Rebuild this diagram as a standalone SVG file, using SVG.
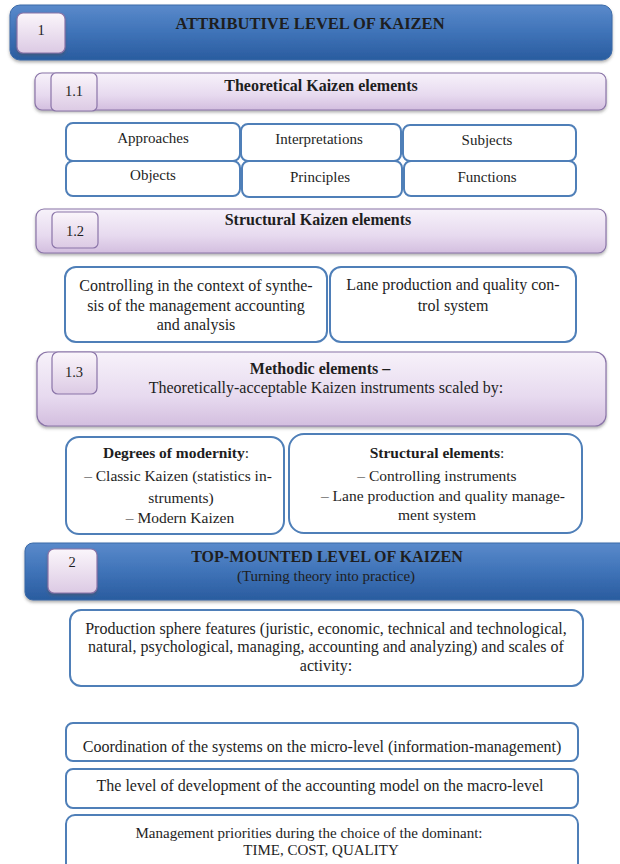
<svg xmlns="http://www.w3.org/2000/svg" width="620" height="864" viewBox="0 0 620 864">
  <defs>
    <linearGradient id="blueBar" x1="0" y1="0" x2="0" y2="1">
      <stop offset="0" stop-color="#5a8acb"/>
      <stop offset="0.5" stop-color="#3f73b8"/>
      <stop offset="1" stop-color="#2a5c9f"/>
    </linearGradient>
    <linearGradient id="lilacBar" x1="0" y1="0" x2="0" y2="1">
      <stop offset="0" stop-color="#f7f2fa"/>
      <stop offset="0.6" stop-color="#e7daef"/>
      <stop offset="1" stop-color="#d3bedf"/>
    </linearGradient>
    <linearGradient id="tag" x1="0" y1="0" x2="0" y2="1">
      <stop offset="0" stop-color="#fbf6fb"/>
      <stop offset="1" stop-color="#dccae4"/>
    </linearGradient>
    <filter id="shadow" x="-5%" y="-20%" width="110%" height="150%">
      <feDropShadow dx="0" dy="2" stdDeviation="1.5" flood-color="#555" flood-opacity="0.45"/>
    </filter>
  </defs>
  <style>
    text { font-family: "Liberation Serif", "Times New Roman", serif; fill: #1e1e1e; text-anchor: middle; }
    .c { font-size: 15px; }
    .m { font-size: 15.5px; }
    .t { font-size: 16px; }
    .s { font-size: 15px; }
    .b { font-size: 16px; font-weight: bold; }
    .h { font-size: 16.5px; font-weight: bold; }
    .lab { font-size: 14.5px; }
    .blue { fill: url(#blueBar); stroke: #3a6aa8; stroke-width: 1; }
    .lilac { fill: url(#lilacBar); stroke: #8a74a8; stroke-width: 1.2; }
    .tag { fill: url(#tag); stroke: #8a74a8; stroke-width: 1.2; }
    .cell { fill: #ffffff; stroke: #4f7fb8; stroke-width: 2; }
  </style>

  <!-- Level 1 header -->
  <g id="level1">
    <rect class="blue" x="10" y="5" width="602" height="55" rx="10" filter="url(#shadow)"/>
    <rect class="tag" x="17" y="13" width="48" height="40" rx="6" filter="url(#shadow)"/>
    <text class="lab" x="41" y="35">1</text>
    <text class="h" x="310" y="29">ATTRIBUTIVE LEVEL OF KAIZEN</text>
  </g>

  <!-- 1.1 Theoretical elements -->
  <g id="sec11">
    <rect class="lilac" x="35" y="73" width="571" height="37" rx="7" filter="url(#shadow)"/>
    <rect class="tag" x="51" y="73" width="46" height="38" rx="5"/>
    <text class="lab" x="74" y="96">1.1</text>
    <text class="b" x="321" y="91">Theoretical Kaizen elements</text>
  </g>

  <g id="approaches"><rect class="cell" x="66" y="123" width="174" height="38" rx="7"/><text class="c" x="153" y="143">Approaches</text></g>
  <g id="interpretations"><rect class="cell" x="241" y="124" width="160" height="37" rx="7"/><text class="c" x="319" y="144">Interpretations</text></g>
  <g id="subjects"><rect class="cell" x="403" y="125" width="173" height="36" rx="7"/><text class="c" x="487" y="145">Subjects</text></g>
  <g id="objects"><rect class="cell" x="66" y="161" width="174" height="35" rx="7"/><text class="c" x="153" y="180">Objects</text></g>
  <g id="principles"><rect class="cell" x="242" y="161" width="160" height="36" rx="7"/><text class="c" x="320" y="182">Principles</text></g>
  <g id="functions"><rect class="cell" x="404" y="161" width="172" height="35" rx="7"/><text class="c" x="487" y="182">Functions</text></g>

  <!-- 1.2 Structural elements -->
  <g id="sec12">
    <rect class="lilac" x="36" y="209" width="570" height="44" rx="8" filter="url(#shadow)"/>
    <rect class="tag" x="52" y="212" width="46" height="36" rx="5"/>
    <text class="lab" x="75" y="236">1.2</text>
    <text class="b" x="318" y="225">Structural Kaizen elements</text>
  </g>

  <g id="controlling">
    <rect class="cell" x="65" y="267" width="262" height="75" rx="11"/>
    <text class="t" x="196" y="291">Controlling in the context of synthe-</text>
    <text class="t" x="196" y="311">sis of the management accounting</text>
    <text class="t" x="196" y="330">and analysis</text>
  </g>
  <g id="lane">
    <rect class="cell" x="330" y="267" width="246" height="75" rx="11"/>
    <text class="t" x="453" y="290">Lane production and quality con-</text>
    <text class="t" x="453" y="311">trol system</text>
  </g>

  <!-- 1.3 Methodic elements -->
  <g id="sec13">
    <rect class="lilac" x="37" y="352" width="569" height="74" rx="11" filter="url(#shadow)"/>
    <rect class="tag" x="52" y="352" width="45" height="42" rx="6"/>
    <text class="lab" x="74" y="377">1.3</text>
    <text class="b" x="320" y="374">Methodic elements –</text>
    <text class="t" x="326" y="393">Theoretically-acceptable Kaizen instruments scaled by:</text>
  </g>

  <g id="modernity">
    <rect class="cell" x="66" y="437" width="218" height="97" rx="13"/>
    <text class="m" x="176" y="458"><tspan font-weight="bold">Degrees of modernity</tspan>:</text>
    <text class="m" x="178" y="481">– Classic Kaizen (statistics in-</text>
    <text class="m" x="181" y="503">struments)</text>
    <text class="m" x="180" y="523">– Modern Kaizen</text>
  </g>
  <g id="structural">
    <rect class="cell" x="289" y="434" width="293" height="99" rx="15"/>
    <text class="m" x="437" y="458"><tspan font-weight="bold">Structural elements</tspan>:</text>
    <text class="m" x="437" y="481">– Controlling instruments</text>
    <text class="m" x="443" y="501">– Lane production and quality manage-</text>
    <text class="m" x="437" y="520">ment system</text>
  </g>

  <!-- Level 2 header -->
  <g id="level2">
    <rect class="blue" x="25" y="543" width="610" height="57" rx="8" filter="url(#shadow)"/>
    <rect class="tag" x="48" y="549" width="49" height="44" rx="6" filter="url(#shadow)"/>
    <text class="lab" x="72" y="567">2</text>
    <text class="b" x="327" y="562">TOP-MOUNTED LEVEL OF KAIZEN</text>
    <text class="s" x="326" y="581">(Turning theory into practice)</text>
  </g>

  <!-- Level 2 items -->
  <g id="production">
    <rect class="cell" x="70" y="610" width="513" height="76" rx="11"/>
    <text class="t" x="326" y="634">Production sphere features (juristic, economic, technical and technological,</text>
    <text class="t" x="326" y="652">natural, psychological, managing, accounting and analyzing) and scales of</text>
    <text class="t" x="326" y="671">activity:</text>
  </g>
  <g id="coordination">
    <rect class="cell" x="66" y="723" width="512" height="38" rx="7"/>
    <text class="t" x="322" y="752">Coordination of the systems on the micro-level (information-management)</text>
  </g>
  <g id="accounting">
    <rect class="cell" x="66" y="769" width="512" height="39" rx="7"/>
    <text class="t" x="320" y="791">The level of development of the accounting model on the macro-level</text>
  </g>
  <g id="priorities">
    <rect class="cell" x="66" y="815" width="512" height="60" rx="9"/>
    <text class="c" x="309" y="838">Management priorities during the choice of the dominant:</text>
    <text class="c" x="321" y="855">TIME, COST, QUALITY</text>
  </g>
</svg>
